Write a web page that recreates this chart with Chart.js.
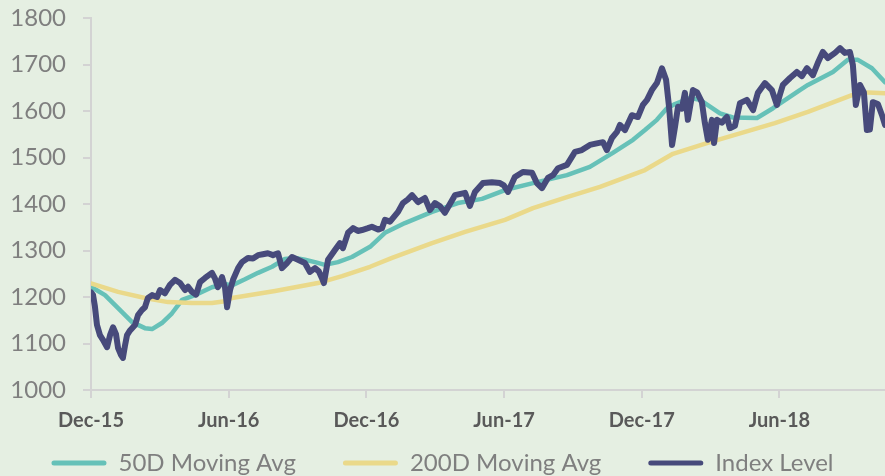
<!DOCTYPE html>
<html>
<head>
<meta charset="utf-8">
<script src="https://cdn.jsdelivr.net/npm/chart.js@4/dist/chart.umd.min.js"></script>
<style>
  html, body { margin: 0; padding: 0; background: #e5efe2; }
  #wrap { width: 885px; height: 476px; }
</style>
</head>
<body>
<div id="wrap"><canvas id="c" width="885" height="476"></canvas></div>
<script>
// ---- data (x = months after the Dec-15 tick) ----
const seriesNames = ['50D Moving Avg', '200D Moving Avg', 'Index Level'];
const xTickMonths = [0, 6, 12, 18, 24, 30];
const xTickLabels = ['Dec-15', 'Jun-16', 'Dec-16', 'Jun-17', 'Dec-17', 'Jun-18'];
const xMaxMonth = 34.6;
const yMin = 1000, yMax = 1800, yStep = 100;

const idxMonths = [0,0.09,0.17,0.26,0.39,0.52,0.61,0.70,0.83,0.96,1.09,1.18,1.31,1.39,1.48,1.57,1.70,1.79,1.92,2.05,
  2.22,2.35,2.48,2.66,2.88,3.01,3.22,3.44,3.66,3.88,4.10,4.23,4.40,4.58,4.75,4.97,5.27,5.40,5.53,5.71,
  5.84,5.93,6.06,6.19,6.41,6.58,6.84,7.06,7.28,7.49,7.71,7.93,8.15,8.32,8.54,8.76,9.02,9.32,9.54,9.76,
  9.93,10.07,10.15,10.33,10.63,10.85,10.98,11.20,11.42,11.63,11.81,12.07,12.24,12.51,12.68,12.81,13.03,13.38,13.59,13.81,
  13.99,14.25,14.55,14.77,14.99,15.21,15.42,15.64,15.86,16.30,16.51,16.73,17.08,17.47,17.82,17.99,18.17,18.47,18.82,19.22,
  19.43,19.65,19.91,20.13,20.35,20.74,21.09,21.39,21.74,22.09,22.31,22.48,22.70,22.92,23.05,23.27,23.57,23.83,24.05,24.23,
  24.44,24.66,24.88,25.06,25.19,25.32,25.45,25.58,25.75,25.88,26.01,26.23,26.41,26.62,26.75,26.88,27.06,27.15,27.28,27.49,
  27.71,27.84,28.06,28.28,28.58,28.85,29.06,29.37,29.67,29.89,30.02,30.15,30.46,30.76,30.98,31.20,31.46,31.67,31.89,32.11,
  32.42,32.64,32.85,33.07,33.20,33.33,33.51,33.68,33.81,33.94,34.07,34.29,34.47,34.60,34.81];
const idxLevel = [1210,1204,1180,1140,1118,1108,1100,1092,1118,1135,1120,1090,1075,1069,1095,1118,1128,1133,1140,1161,
  1172,1178,1198,1204,1200,1215,1208,1226,1237,1230,1215,1222,1211,1205,1232,1241,1252,1240,1221,1243,
  1220,1178,1215,1237,1262,1275,1284,1283,1290,1292,1294,1290,1294,1262,1273,1286,1280,1273,1254,1262,
  1255,1240,1230,1280,1301,1316,1305,1338,1348,1342,1344,1348,1351,1345,1348,1366,1362,1383,1402,1410,
  1419,1404,1413,1387,1402,1395,1381,1400,1419,1424,1396,1426,1445,1447,1445,1440,1426,1458,1469,1467,
  1445,1434,1456,1462,1477,1484,1512,1516,1527,1531,1533,1516,1542,1555,1570,1559,1591,1587,1613,1624,
  1645,1660,1692,1667,1609,1527,1566,1609,1605,1639,1581,1645,1640,1619,1574,1538,1581,1531,1581,1575,
  1587,1563,1568,1617,1624,1602,1639,1660,1645,1613,1635,1656,1671,1684,1675,1692,1677,1703,1727,1714,
  1725,1735,1725,1727,1699,1613,1656,1640,1559,1560,1619,1615,1591,1570,1550];

const ma50Months = [0,0.61,1.18,1.79,2.35,2.66,3.09,3.53,3.97,4.53,5.27,5.84,6.14,6.71,7.28,7.89,8.45,8.89,9.32,9.76,
  10.20,10.76,11.37,12.16,12.81,13.68,14.86,15.99,17.04,18.04,19.26,20.74,21.74,22.74,23.62,24.14,24.66,25.10,25.45,26.10,
  26.54,27.41,27.97,29.02,29.72,30.11,30.89,31.24,32.33,32.98,33.42,34.03,34.60,34.81];
const ma50 = [1222,1204,1176,1146,1133,1131,1144,1165,1194,1204,1221,1228,1225,1238,1252,1265,1282,1284,1280,1275,
  1269,1275,1286,1308,1338,1359,1383,1402,1411,1430,1445,1462,1480,1510,1538,1559,1581,1606,1615,1628,
  1624,1595,1586,1585,1606,1619,1645,1656,1684,1710,1710,1692,1662,1650];

const ma200Months = [0,1.18,2.35,3.36,4.40,5.27,5.84,6.14,8.02,9.89,10.94,12.16,13.12,14.86,16.30,18.04,19.26,20.74,22.18,24.14,
  25.36,26.84,28.28,29.80,31.24,33.16,33.86,34.60];
const ma200 = [1229,1211,1198,1189,1187,1187,1191,1198,1213,1230,1245,1265,1284,1316,1340,1366,1391,1415,1437,1473,
  1508,1531,1552,1574,1598,1634,1640,1638];

// ---- styling ----
const colors = ['#66c1b8', '#ead98a', '#474a7b'];
const widths = [4.5, 4.5, 6];
const drawOrder = [2, 1, 0];
const axisColor = '#d3d3d3';

const toPts = (xs, ys) => xs.map((x, i) => ({ x: x, y: ys[i] }));
const seriesData = [toPts(ma50Months, ma50), toPts(ma200Months, ma200), toPts(idxMonths, idxLevel)];

const datasets = seriesNames.map((name, i) => ({
  label: name,
  data: seriesData[i],
  borderColor: colors[i],
  backgroundColor: colors[i],
  borderWidth: widths[i],
  pointRadius: 0,
  tension: 0,
  borderJoinStyle: 'round',
  borderCapStyle: 'round',
  order: drawOrder[i]
}));

// let the compact x axis still show its labels below its box
const xLabelRoom = {
  id: 'xLabelRoom',
  afterLayout(chart) { chart.scales.x.bottom = chart.height; }
};

new Chart(document.getElementById('c'), {
  type: 'line',
  data: { datasets: datasets },
  plugins: [xLabelRoom],
  options: {
    responsive: false,
    animation: false,
    events: [],
    layout: { padding: { top: 18, right: 0, left: 0, bottom: -9 } },
    scales: {
      x: {
        type: 'linear',
        min: 0,
        max: xMaxMonth,
        afterBuildTicks: (s) => { s.ticks = xTickMonths.map(v => ({ value: v })); },
        afterFit: (s) => { s.height = 14; },
        ticks: {
          autoSkip: false,
          maxRotation: 0,
          padding: 11,
          color: '#595959',
          font: { family: 'Lato', size: 20, weight: 'bold' },
          callback: (v) => { const k = xTickMonths.indexOf(v); return k >= 0 ? xTickLabels[k] : ''; }
        },
        grid: { display: true, drawOnChartArea: false, drawTicks: true, tickLength: 8, color: axisColor, lineWidth: 2 },
        border: { display: true, color: axisColor, width: 2 }
      },
      y: {
        min: yMin,
        max: yMax,
        afterFit: (s) => { s.width = 91; s.paddingTop = 0; s.paddingBottom = 0; },
        ticks: {
          stepSize: yStep,
          padding: 17,
          color: '#7f7f7f',
          font: { family: 'Lato', size: 24 },
          callback: (v) => String(v)
        },
        grid: { display: true, drawOnChartArea: false, drawTicks: true, tickLength: 8, color: axisColor, lineWidth: 2 },
        border: { display: true, color: axisColor, width: 2 }
      }
    },
    plugins: {
      tooltip: { enabled: false },
      legend: {
        position: 'bottom',
        labels: {
          boxWidth: 55,
          boxHeight: 5,
          padding: 47,
          useBorderRadius: true,
          borderRadius: 2.5,
          color: '#7f7f7f',
          font: { family: 'Lato', size: 24 },
          sort: (a, b) => a.datasetIndex - b.datasetIndex,
          generateLabels: (chart) => Chart.defaults.plugins.legend.labels.generateLabels(chart)
            .map(item => Object.assign(item, { lineWidth: 0 }))
        }
      }
    }
  }
});
</script>
</body>
</html>
